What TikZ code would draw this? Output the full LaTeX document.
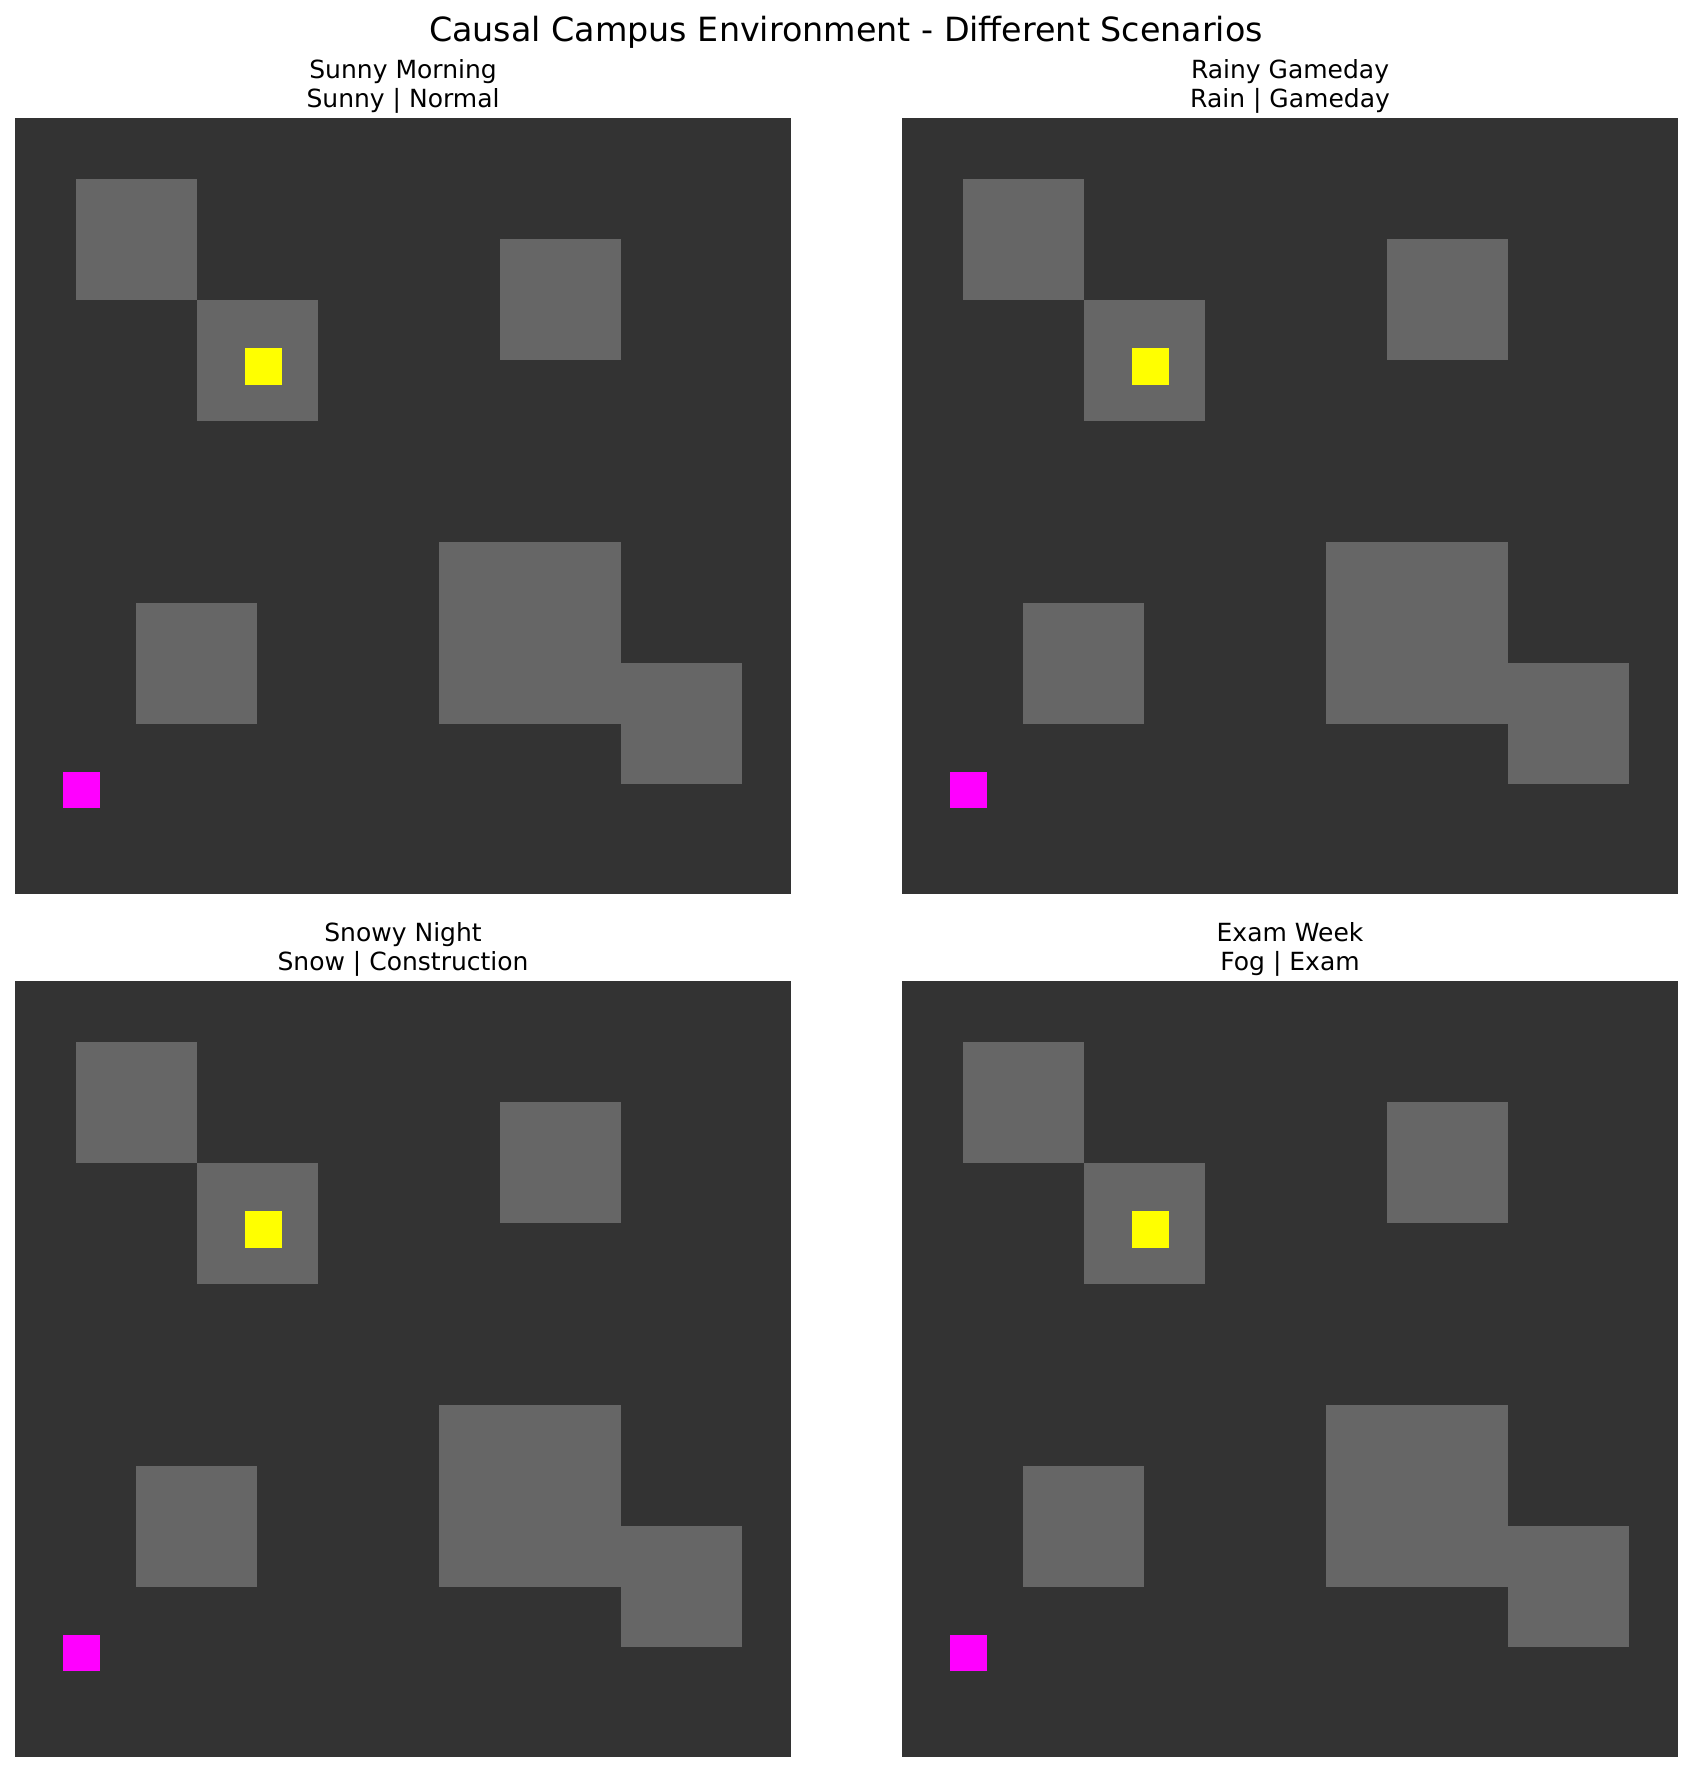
\documentclass[tikz,border=0pt]{standalone}
\usepackage{fontspec}
\setmainfont{DejaVu Sans}
\definecolor{groundgray}{RGB}{51,51,51}
\definecolor{buildinggray}{RGB}{102,102,102}
\definecolor{agentyellow}{RGB}{255,255,0}
\definecolor{goalmagenta}{RGB}{255,0,255}

\begin{document}
\begin{tikzpicture}[
  x=0.48pt,
  y=-0.48pt,
  suptitle/.style={font=\fontsize{16}{19}\selectfont,anchor=base,inner sep=0pt},
  paneltitle/.style={font=\fontsize{12}{14}\selectfont,anchor=base,inner sep=0pt},
  cellgrid/.style={x=29.08pt,y=-29.08pt},
  ground/.style={fill=groundgray},
  building/.style={fill=buildinggray},
  agent/.style={fill=agentyellow},
  goal/.style={fill=goalmagenta}
]
\useasboundingbox (0,0) rectangle (1692,1771);

\node[suptitle] (suptitle) at (846,41) {Causal Campus Environment - Different Scenarios};

% ------------------------------------------------------------------
% Sunny morning
% ------------------------------------------------------------------
\begin{scope}[shift={(15,118)},cellgrid]
  \fill[ground] (0,0) rectangle (12.81,12.81);
  \foreach \cx/\cy/\w/\h in {1/1/2/2,3/3/2/2,8/2/2/2,7/7/3/3,10/9/2/2,2/8/2/2}
    \fill[building] (\cx,\cy) rectangle ++(\w,\h);
  \fill[agent] (3.80,3.80) rectangle (4.41,4.41);
  \fill[goal] (0.79,10.80) rectangle (1.40,11.39);

  \node[paneltitle] (sunnyname) at (6.405,-0.65) {Sunny Morning};
  \node[paneltitle] (sunnycond) at (6.405,-0.18) {Sunny | Normal};
\end{scope}

% ------------------------------------------------------------------
% Rainy gameday
% ------------------------------------------------------------------
\begin{scope}[shift={(902,118)},cellgrid]
  \fill[ground] (0,0) rectangle (12.81,12.81);
  \foreach \cx/\cy/\w/\h in {1/1/2/2,3/3/2/2,8/2/2/2,7/7/3/3,10/9/2/2,2/8/2/2}
    \fill[building] (\cx,\cy) rectangle ++(\w,\h);
  \fill[agent] (3.80,3.80) rectangle (4.41,4.41);
  \fill[goal] (0.79,10.80) rectangle (1.40,11.39);

  \node[paneltitle] (rainyname) at (6.405,-0.65) {Rainy Gameday};
  \node[paneltitle] (rainycond) at (6.405,-0.18) {Rain | Gameday};
\end{scope}

% ------------------------------------------------------------------
% Snowy night
% ------------------------------------------------------------------
\begin{scope}[shift={(15,981)},cellgrid]
  \fill[ground] (0,0) rectangle (12.81,12.81);
  \foreach \cx/\cy/\w/\h in {1/1/2/2,3/3/2/2,8/2/2/2,7/7/3/3,10/9/2/2,2/8/2/2}
    \fill[building] (\cx,\cy) rectangle ++(\w,\h);
  \fill[agent] (3.80,3.80) rectangle (4.41,4.41);
  \fill[goal] (0.79,10.80) rectangle (1.40,11.39);

  \node[paneltitle] (snowyname) at (6.405,-0.65) {Snowy Night};
  \node[paneltitle] (snowycond) at (6.405,-0.18) {Snow | Construction};
\end{scope}

% ------------------------------------------------------------------
% Exam week
% ------------------------------------------------------------------
\begin{scope}[shift={(902,981)},cellgrid]
  \fill[ground] (0,0) rectangle (12.81,12.81);
  \foreach \cx/\cy/\w/\h in {1/1/2/2,3/3/2/2,8/2/2/2,7/7/3/3,10/9/2/2,2/8/2/2}
    \fill[building] (\cx,\cy) rectangle ++(\w,\h);
  \fill[agent] (3.80,3.80) rectangle (4.41,4.41);
  \fill[goal] (0.79,10.80) rectangle (1.40,11.39);

  \node[paneltitle] (examname) at (6.405,-0.65) {Exam Week};
  \node[paneltitle] (examcond) at (6.405,-0.18) {Fog | Exam};
\end{scope}

\end{tikzpicture}
\end{document}
